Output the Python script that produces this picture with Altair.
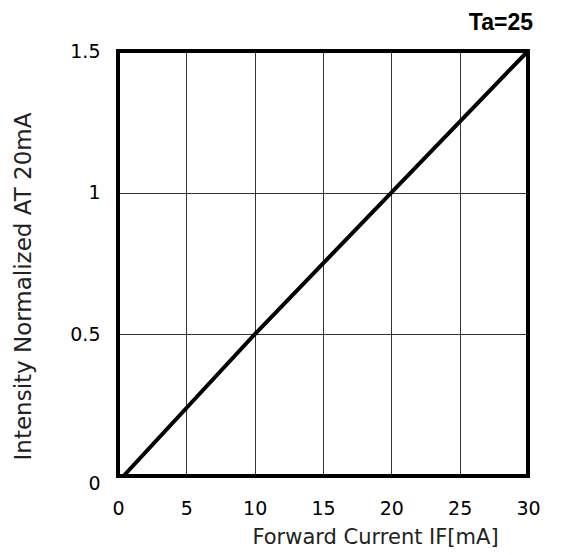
import altair as alt
import pandas as pd

current = [0.4, 10, 20, 30]
intensity = [0.0, 0.5, 1.0, 1.5]
x_ticks = [0, 5, 10, 15, 20, 25, 30]
y_ticks = [0, 0.5, 1, 1.5]

df = pd.DataFrame({"current": current, "intensity": intensity})

FONT = "DejaVu Sans"

line = alt.Chart(df).mark_line(color="black", strokeWidth=4, clip=True).encode(
    x=alt.X("current:Q", scale=alt.Scale(domain=[0, 30], nice=False),
            axis=alt.Axis(values=x_ticks, title="Forward Current IF[mA]", format="d",
                          grid=True, gridColor="black", gridWidth=0.8, gridOpacity=1,
                          ticks=False, domain=False, labelPadding=23, labelFlush=False,
                          labelFontSize=19, labelColor="black", labelFont=FONT,
                          titleFontSize=21, titleFont=FONT, titleFontWeight="normal",
                          titleColor="#222", titlePadding=8, titleX=257)),
    y=alt.Y("intensity:Q", scale=alt.Scale(domain=[0, 1.5], nice=False),
            axis=alt.Axis(values=y_ticks, title="Intensity Normalized AT 20mA",
                          format="~g", labelFlush=False,
                          labelOffset={"condition": {"test": "datum.value == 0", "value": 7}, "value": 0},
                          grid=True, gridColor="black", gridWidth=0.8, gridOpacity=1,
                          ticks=False, domain=False, labelPadding=18,
                          labelFontSize=19, labelColor="black", labelFont=FONT,
                          titleFontSize=23, titleFont=FONT, titleFontWeight="normal",
                          titleColor="#222", titlePadding=34, titleY=235)),
)

chart = line.properties(
    width=410, height=425,
    title=alt.TitleParams("Ta=25", anchor="end", frame="group", fontSize=23,
                          fontWeight="bold", font="Liberation Sans", color="black",
                          offset=7, dx=5),
    autosize=alt.AutoSizeParams(type="none"),
    padding={"left": 110, "top": 43, "right": 46, "bottom": 71},
).configure_view(stroke="black", strokeWidth=4)

chart.save("out.html", embed_options={"renderer": "svg", "actions": False})
